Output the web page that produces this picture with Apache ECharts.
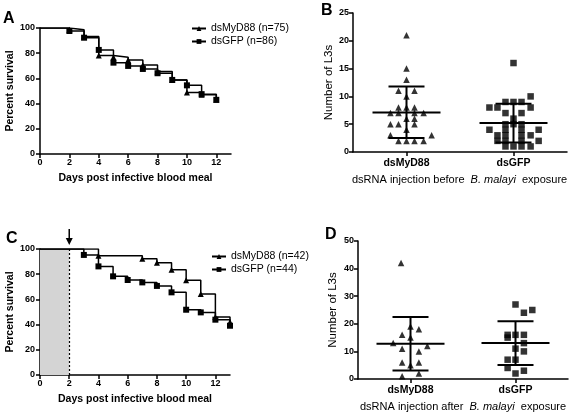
<!DOCTYPE html>
<html><head><meta charset="utf-8">
<script src="https://cdn.jsdelivr.net/npm/echarts@6/dist/echarts.min.js"></script>
<style>html,body{margin:0;padding:0;background:#fff}#c{width:573px;height:416px}</style>
</head><body><div id="c"></div>
<script>
const FONT = 'Arial, "Liberation Sans", sans-serif';

// ---- Panel A: survival, dsRNA before exposure ----
const daysA = [0, 2, 3, 4, 5, 6, 7, 8, 9, 10, 11, 12];
const survA_MyD88 = [100, 98.7, 93.3, 78.1, 76.8, 74.6, 70.7, 65.4, 58.8, 48.8, 47, 43];
const survA_GFP = [100, 97.6, 92.3, 82.6, 72.5, 69.9, 67.5, 64.1, 58.8, 54.5, 47.5, 43];
const legendA = ['dsMyD88 (n=75)', 'dsGFP (n=86)'];

// ---- Panel C: survival, dsRNA after exposure ----
const daysC_MyD88 = [0, 4, 7, 8, 9, 10, 11, 12, 13];
const survC_MyD88 = [100, 94.7, 92.2, 89.1, 83.5, 75.1, 64.3, 46, 42];
const daysC_GFP = [0, 3, 4, 5, 6, 7, 8, 9, 10, 11, 12, 13];
const survC_GFP = [100, 95.3, 86.2, 78.3, 75.4, 73.5, 70.7, 65.6, 51.8, 49.7, 43.9, 39.1];
const legendC = ['dsMyD88 (n=42)', 'dsGFP (n=44)'];
const injectionDay = 2;

const dayTicks = [0, 2, 4, 6, 8, 10, 12];
const groups = ['dsMyD88', 'dsGFP'];
const groupPos = [1, 3];

// ---- Panel B: L3 counts, dsRNA before exposure ----
const bMyD88Vals = [21, 15, 13, 11, 11, 10, 8, 8, 8, 7, 7, 7, 7, 6, 6, 5, 5, 5, 4, 3, 3, 2, 2, 2, 2];
const bMyD88Pos  = [1, 1, 1, 0.85, 1.15, 1, 0.85, 1, 1.15, 0.7, 0.85, 1.15, 1.32, 1, 1.15, 0.7, 0.85, 1.15, 1, 0.7, 1.47, 0.85, 1, 1.15, 1.32];
const bGFPVals = [16, 10, 9, 9, 9, 8, 8, 8, 7, 7, 6, 5, 5, 5, 4, 4, 4, 4, 3, 3, 3, 3, 2, 2, 2, 2, 1, 1, 1, 1];
const bGFPPos  = [3, 3.32, 2.85, 3, 3.15, 2.55, 2.7, 3.32, 2.85, 3.15, 3, 2.85, 3, 3.15, 2.55, 2.85, 3.15, 3.47, 2.7, 2.85, 3.15, 3.32, 2.7, 2.85, 3.15, 3.47, 2.85, 3, 3.15, 3.32];
const bMean = [7.1, 5.2], bLow = [2.5, 1.7], bHigh = [11.8, 8.7];

// ---- Panel D: L3 counts, dsRNA after exposure ----
const dMyD88Vals = [42, 19, 18, 16, 15, 13, 12, 11, 10, 6, 6, 5, 2, 1];
const dMyD88Pos  = [0.82, 1, 1.16, 0.84, 1, 0.67, 1.32, 0.84, 1.16, 0.84, 1.16, 1, 1.16, 0.84];
const dGFPVals = [27, 25, 24, 16, 16, 16, 15, 13, 11, 10, 7, 7, 4, 3, 2];
const dGFPPos  = [3, 3.32, 3.16, 2.85, 3, 3.16, 2.85, 3.16, 3, 3.16, 2.85, 3, 2.85, 3.16, 3];
const dMean = [12.8, 13.0], dLow = [3.1, 5.1], dHigh = [22.5, 20.9];

// ---------------------------------------------------------------
const chart = echarts.init(document.getElementById('c'), null, {renderer: 'canvas'});
const axisLineStyle = {color: '#000', width: 1.5};
const tickLbl = {color: '#000', fontFamily: FONT, fontWeight: 'bold', fontSize: 9};

function kmData(days, vals) {
  return days.map((d, i) => i === 0 ? {value: [d, vals[i]], symbol: 'none'} : [d, vals[i]]);
}
function kmSeries(name, days, vals, sym, gi) {
  return {
    type: 'line', name, xAxisIndex: gi, yAxisIndex: gi, step: 'end',
    data: kmData(days, vals), symbol: sym, symbolSize: 6, showAllSymbol: true,
    lineStyle: {color: '#000', width: 1.5}, itemStyle: {color: '#000'}, animation: false
  };
}
function scatterSeries(pos, vals, sym, gi) {
  return {
    type: 'scatter', xAxisIndex: gi, yAxisIndex: gi,
    data: vals.map((v, i) => [pos[i], v]), symbol: sym, symbolSize: 6.5,
    itemStyle: {color: '#000'}, animation: false, z: 3
  };
}
function errSeries(mean, low, high, gi) {
  return {
    type: 'custom', xAxisIndex: gi, yAxisIndex: gi, animation: false, z: 4,
    data: groupPos.map((p, i) => [p, mean[i], low[i], high[i]]),
    renderItem(params, api) {
      const x = api.value(0);
      const m = api.coord([x, api.value(1)]);
      const lo = api.coord([x, api.value(2)]);
      const hi = api.coord([x, api.value(3)]);
      const mw = 34, cw = 18;
      const style = {stroke: '#000', lineWidth: 2};
      return {type: 'group', children: [
        {type: 'line', shape: {x1: m[0] - mw, y1: m[1], x2: m[0] + mw, y2: m[1]}, style},
        {type: 'line', shape: {x1: lo[0], y1: lo[1], x2: hi[0], y2: hi[1]}, style},
        {type: 'line', shape: {x1: hi[0] - cw, y1: hi[1], x2: hi[0] + cw, y2: hi[1]}, style},
        {type: 'line', shape: {x1: lo[0] - cw, y1: lo[1], x2: lo[0] + cw, y2: lo[1]}, style}
      ]};
    }
  };
}
function kmXAxis(gi) {
  return {
    gridIndex: gi, type: 'value', min: 0, max: 13,
    name: 'Days post infective blood meal', nameLocation: 'middle', nameGap: 19,
    nameTextStyle: {color: '#000', fontFamily: FONT, fontWeight: 'bold', fontSize: 10.5},
    axisLine: {lineStyle: axisLineStyle}, axisTick: {length: 4, lineStyle: axisLineStyle, customValues: dayTicks},
    axisLabel: Object.assign({margin: 4, customValues: dayTicks}, tickLbl), splitLine: {show: false}
  };
}
function kmYAxis(gi) {
  return {
    gridIndex: gi, type: 'value', min: 0, max: 100, interval: 20,
    name: 'Percent survival', nameLocation: 'middle', nameGap: 23,
    nameTextStyle: {color: '#000', fontFamily: FONT, fontWeight: 'bold', fontSize: 10.5},
    axisLine: {show: true, lineStyle: axisLineStyle}, axisTick: {show: true, length: 4, lineStyle: axisLineStyle},
    axisLabel: Object.assign({margin: 5}, tickLbl), splitLine: {show: false}
  };
}
function dotXAxis(gi) {
  return {
    gridIndex: gi, type: 'value', min: 0, max: 4,
    axisLine: {lineStyle: axisLineStyle}, axisTick: {length: 4, lineStyle: axisLineStyle, customValues: groupPos},
    axisLabel: {customValues: groupPos, margin: 6, color: '#000', fontFamily: FONT, fontWeight: 'bold', fontSize: 10.5,
      formatter: v => groups[groupPos.indexOf(v)] || ''},
    splitLine: {show: false}
  };
}
function dotYAxis(gi, max, interval, gap) {
  return {
    gridIndex: gi, type: 'value', min: 0, max, interval,
    name: 'Number of L3s', nameLocation: 'middle', nameGap: gap,
    nameTextStyle: {color: '#000', fontFamily: FONT, fontSize: 11.5},
    axisLine: {show: true, lineStyle: axisLineStyle}, axisTick: {show: true, length: 4, lineStyle: axisLineStyle},
    axisLabel: Object.assign({margin: 4}, tickLbl), splitLine: {show: false}
  };
}
const legendBase = {
  orient: 'vertical', itemWidth: 14, itemHeight: 6, itemGap: 2,
  textStyle: {color: '#000', fontFamily: FONT, fontSize: 10.5}
};
const cMyD88 = kmSeries(legendC[0], daysC_MyD88, survC_MyD88, 'triangle', 2);
cMyD88.markArea = {silent: true, itemStyle: {color: '#d4d4d4'},
  data: [[{coord: [0, 0]}, {coord: [injectionDay, 100]}]]};
cMyD88.markLine = {silent: true, symbol: 'none', label: {show: false},
  lineStyle: {color: '#000', type: [2, 2], width: 1.2},
  data: [[{coord: [injectionDay, 0]}, {coord: [injectionDay, 100]}]]};

const subStyle = {fill: '#000', fontFamily: FONT, fontSize: 11};
const option = {
  backgroundColor: '#fff',
  animation: false,
  grid: [
    {left: 40, top: 28, width: 191, height: 126},
    {left: 353, top: 13, width: 214, height: 139},
    {left: 40, top: 249, width: 190, height: 126},
    {left: 358, top: 241, width: 210, height: 138}
  ],
  xAxis: [kmXAxis(0), dotXAxis(1), kmXAxis(2), dotXAxis(3)],
  yAxis: [kmYAxis(0), dotYAxis(1, 25, 5, 17), kmYAxis(2), dotYAxis(3, 50, 10, 19)],
  legend: [
    Object.assign({}, legendBase, {data: legendA, left: 186, top: 18}),
    Object.assign({}, legendBase, {data: legendC, left: 206, top: 246})
  ],
  series: [
    kmSeries(legendA[0], daysA, survA_MyD88, 'triangle', 0),
    kmSeries(legendA[1], daysA, survA_GFP, 'rect', 0),
    cMyD88,
    kmSeries(legendC[1], daysC_GFP, survC_GFP, 'rect', 2),
    scatterSeries(bMyD88Pos, bMyD88Vals, 'triangle', 1),
    scatterSeries(bGFPPos, bGFPVals, 'rect', 1),
    errSeries(bMean, bLow, bHigh, 1),
    scatterSeries(dMyD88Pos, dMyD88Vals, 'triangle', 3),
    scatterSeries(dGFPPos, dGFPVals, 'rect', 3),
    errSeries(dMean, dLow, dHigh, 3)
  ],
  graphic: [
    {type: 'text', left: 3, top: 11, style: {text: 'A', fill: '#000', fontFamily: FONT, fontWeight: 'bold', fontSize: 16}},
    {type: 'text', left: 321, top: 3, style: {text: 'B', fill: '#000', fontFamily: FONT, fontWeight: 'bold', fontSize: 16}},
    {type: 'text', left: 6, top: 231, style: {text: 'C', fill: '#000', fontFamily: FONT, fontWeight: 'bold', fontSize: 16}},
    {type: 'text', left: 325, top: 227, style: {text: 'D', fill: '#000', fontFamily: FONT, fontWeight: 'bold', fontSize: 16}},
    {type: 'text', left: 352, top: 174, style: Object.assign({
      text: 'dsRNA injection before  {i|B. malayi}  exposure',
      rich: {i: {fontStyle: 'italic', fontFamily: FONT, fontSize: 11, fill: '#000'}}}, subStyle)},
    {type: 'text', left: 360, top: 401, style: Object.assign({
      text: 'dsRNA injection after  {i|B. malayi}  exposure',
      rich: {i: {fontStyle: 'italic', fontFamily: FONT, fontSize: 11, fill: '#000'}}}, subStyle)}
  ]
};
chart.setOption(option);

// arrow marking the injection day above panel C, placed through the axis scale
const tip = chart.convertToPixel({gridIndex: 2}, [injectionDay, 100]);
chart.setOption({graphic: option.graphic.concat([
  {type: 'line', shape: {x1: tip[0], y1: tip[1] - 20, x2: tip[0], y2: tip[1] - 9}, style: {stroke: '#000', lineWidth: 1.5}},
  {type: 'polygon', shape: {points: [[tip[0] - 3.5, tip[1] - 11], [tip[0] + 3.5, tip[1] - 11], [tip[0], tip[1] - 4]]}, style: {fill: '#000'}}
])});
</script>
</body></html>
